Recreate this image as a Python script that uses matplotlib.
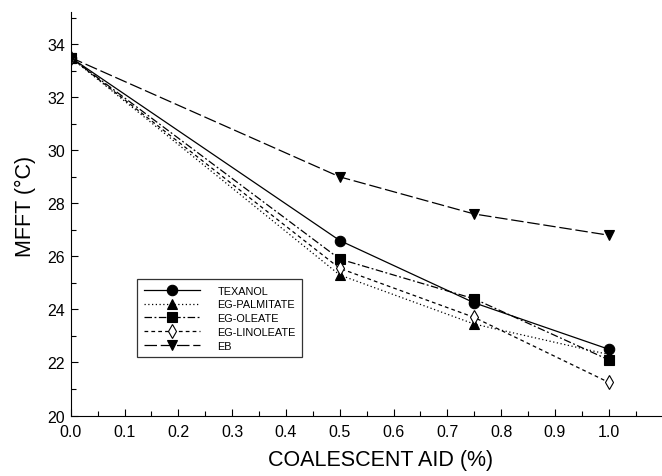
import numpy as np
import matplotlib
matplotlib.use("Agg")
import matplotlib.pyplot as plt
from matplotlib.ticker import MultipleLocator

plt.rcParams['font.family'] = ['Liberation Sans', 'DejaVu Sans']

# coalescent aid level (%) and MFFT readings (deg C)
aid = [0.0, 0.5, 0.75, 1.0]
texanol = [33.5, 26.6, 24.25, 22.5]
eg_palmitate = [33.5, 25.3, 23.45, 22.3]
eg_oleate = [33.5, 25.9, 24.4, 22.1]
eg_linoleate = [33.5, 25.55, 23.7, 21.25]
eb = [33.5, 29.0, 27.6, 26.8]

series_names = ["TEXANOL", "EG-PALMITATE", "EG-OLEATE", "EG-LINOLEATE", "EB"]
series_vals = [texanol, eg_palmitate, eg_oleate, eg_linoleate, eb]

styles = [
    dict(ls='-', marker='o', mfc='black', ms=7.5),
    dict(ls=(0, (1, 2)), marker='^', mfc='black', ms=7),
    dict(ls=(0, (6, 2, 1.5, 2)), marker='s', mfc='black', ms=7),
    dict(ls=(0, (3, 2.5)), marker='d', mfc='white', ms=7),
    dict(ls=(0, (10, 3)), marker='v', mfc='black', ms=7.5),
]

fig = plt.figure(figsize=(6.62, 4.77), dpi=100)
ax = fig.add_axes([0.1068, 0.1268, 0.894, 0.845])

for name, vals, st in zip(series_names, series_vals, styles):
    ax.plot(aid, vals, color='black', lw=0.9, linestyle=st['ls'],
            marker=st['marker'], mfc=st['mfc'], mec='black', mew=0.8,
            ms=st['ms'], label=name)

ax.set_xlim(0, 1.1)
ax.set_ylim(20, 35.2)
ax.xaxis.set_minor_locator(MultipleLocator(0.05))
ax.yaxis.set_minor_locator(MultipleLocator(1))
ax.set_xticks(np.arange(0, 1.01, 0.1))
ax.set_xticklabels([f"{v:.1f}" for v in np.arange(0, 1.01, 0.1)])
ax.set_yticks(np.arange(20, 35, 2))

ax.spines['top'].set_visible(False)
ax.spines['right'].set_visible(False)
ax.tick_params(which='major', direction='in', length=5, width=0.8, labelsize=11.5)
ax.tick_params(which='minor', direction='in', length=3.5, width=0.8)
ax.tick_params(axis='x', pad=6)
ax.tick_params(axis='y', pad=4)

ax.set_xlabel("COALESCENT AID (%)", fontsize=15.5, va='center')
ax.set_ylabel("MFFT (°C)", fontsize=15.5, va='center')
ax.xaxis.set_label_coords(0.524, -0.108)
ax.yaxis.set_label_coords(-0.077, 0.52)

leg = ax.legend(loc='upper left', bbox_to_anchor=(0.1125, 0.3385),
                fontsize=7.8, handlelength=5.2, frameon=True, fancybox=False,
                borderpad=0.6, labelspacing=0.35, handletextpad=1.6,
                borderaxespad=0)
leg.get_frame().set_edgecolor('black')
leg.get_frame().set_linewidth(0.9)

fig.savefig("out.png", dpi=100)
